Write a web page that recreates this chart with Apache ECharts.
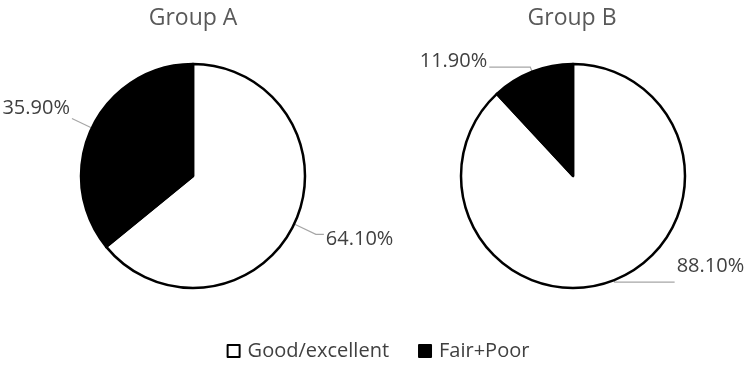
<!DOCTYPE html>
<html><head><meta charset="utf-8">
<script src="https://cdn.jsdelivr.net/npm/echarts@6/dist/echarts.min.js"></script>
<style>html,body{margin:0;padding:0;background:#fff}#c{width:756px;height:369px}</style>
</head><body><div id="c"></div>
<script>
const categories = ['Good/excellent', 'Fair+Poor'];
const groups = ['Group A', 'Group B'];
const groupA = [64.1, 35.9];
const groupB = [88.1, 11.9];
const colors = ['#ffffff', '#000000'];
// label line lengths per slice [length, length2]
const lineA = [[24, 8], [22, 0]];
const lineB = [[2, 60], [5, 41]];
// small vertical nudges of labels, per series and slice
const nudge = [[5, -10], [-16, -6]];

const font = '"Open Sans", "Noto Sans", sans-serif';
function makeSeries(si, name, vals, lines, cx) {
  return {
    type: 'pie', name: name, center: [cx, 176], radius: [0, 112],
    startAngle: 90, clockwise: true, avoidLabelOverlap: false,
    itemStyle: { borderColor: '#000', borderWidth: 2.5 },
    label: { show: true, position: 'outside', color: '#404040', fontSize: 20, fontFamily: font,
      formatter: p => p.value.toFixed(2) + '%', distanceToLabelLine: 2 },
    labelLine: { show: true, lineStyle: { color: '#a6a6a6', width: 1.2 } },
    labelLayout: p => ({ dy: nudge[si][p.dataIndex] }),
    emphasis: { disabled: true },
    data: vals.map((v, i) => ({ name: categories[i], value: v,
      itemStyle: { color: colors[i] },
      labelLine: { length: lines[i][0], length2: lines[i][1] } }))
  };
}
const chart = echarts.init(document.getElementById('c'));
const titleStyle = { color: '#595959', fontSize: 23, fontWeight: 'normal', fontFamily: font };
chart.setOption({
  animation: false,
  backgroundColor: '#fff',
  title: [
    { text: groups[0], left: 188, top: 2, textAlign: 'center', textStyle: titleStyle },
    { text: groups[1], left: 567, top: 2, textAlign: 'center', textStyle: titleStyle }
  ],
  legend: {
    bottom: 3, left: 'center', icon: 'rect', itemWidth: 12, itemHeight: 12, itemGap: 29,
    textStyle: { color: '#404040', fontSize: 20, fontFamily: font, padding: [0, 0, 0, 3] },
    itemStyle: { borderColor: '#000', borderWidth: 2 },
    data: categories
  },
  series: [makeSeries(0, groups[0], groupA, lineA, 193), makeSeries(1, groups[1], groupB, lineB, 573)]
});
</script></body></html>
